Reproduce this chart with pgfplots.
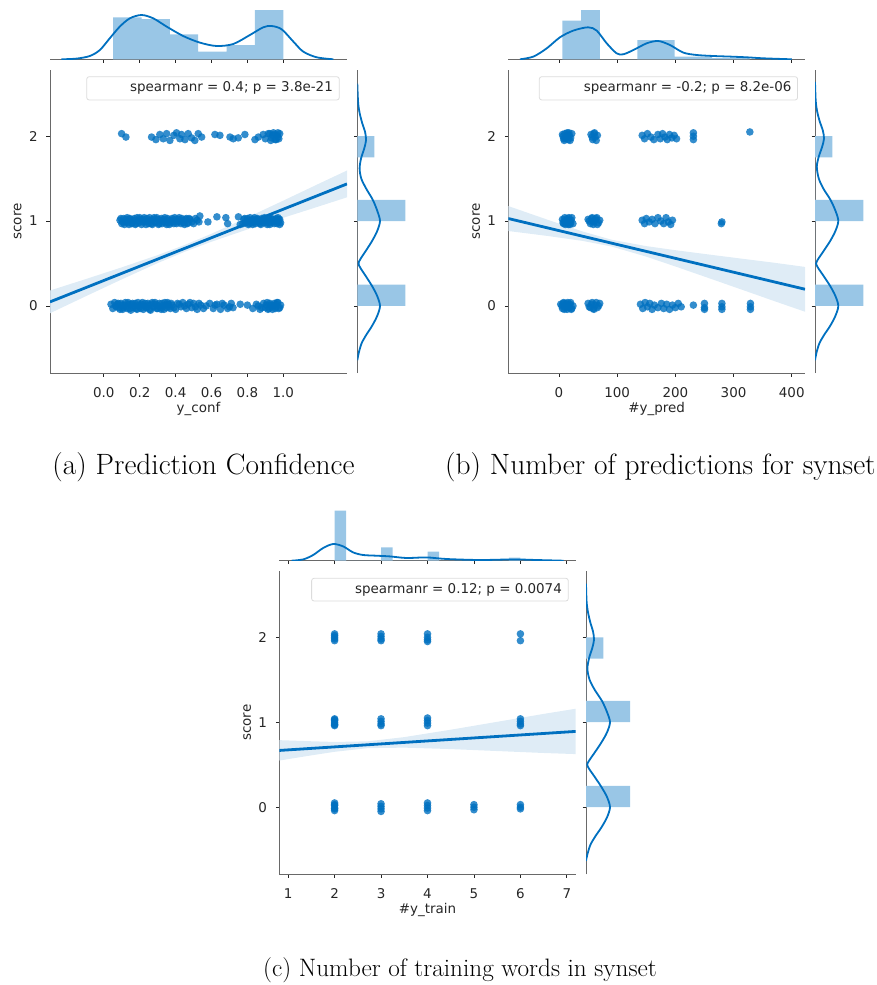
\documentclass[border=0pt]{standalone}
\usepackage{fontspec}
\usepackage{pgfplots}
\pgfplotsset{compat=1.18}
\newfontfamily\dejavu{DejaVu Sans}

\definecolor{sblue}{RGB}{0,112,192}
\definecolor{hblue}{RGB}{153,198,230}
\definecolor{cblue}{RGB}{217,233,245}
\definecolor{spine}{RGB}{105,105,105}
\definecolor{txt}{RGB}{38,38,38}
\definecolor{lgd}{RGB}{220,220,220}

\pgfplotsset{
  base/.style={
    scale only axis,
    font=\dejavu\fontsize{13.5}{16}\selectfont,
    /pgf/number format/assume math mode=true,
    tick align=outside,
    major tick length=3.5bp,
    tick style={color=txt, line width=0.8bp},
    axis line style={spine, line width=0.9bp},
    ticklabel style={text=txt},
    label style={text=txt},
  },
  joint/.style={
    base,
    axis x line*=bottom, axis y line*=left,
    ymin=-0.79, ymax=2.78, ytick={0,1,2},
    xticklabel style={inner sep=0pt, anchor=north},
    yticklabel style={inner sep=0pt, anchor=east},
    xticklabel shift=10.4bp, yticklabel shift=8.6bp,
    ylabel={score},
    ylabel style={at={(axis description cs:-0.096,0.5)}, anchor=base},
    xlabel style={at={(axis description cs:0.5,-0.130)}, anchor=base},
  },
  topm/.style={
    base,
    axis x line*=bottom, axis y line=none,
    xticklabels={}, ytick=\empty,
    ymin=0, ymax=54, height=54bp,
  },
  rightm/.style={
    base,
    axis y line*=left, axis x line=none,
    yticklabels={}, xtick=\empty, ytick={0,1,2},
    xmin=0, ymin=-0.79, ymax=2.78,
  },
  pts/.style={only marks, mark=*, mark size=3.8bp, color=sblue,
    mark options={fill=sblue, draw=sblue, draw opacity=0, fill opacity=0.8}},
  regline/.style={sblue, line width=2.8bp},
  band/.style={fill=cblue, draw=none, fill opacity=0.85},
  kde/.style={sblue, line width=1.8bp, smooth},
  hist/.style={fill=hblue, draw=none},
}

\begin{document}
\begin{tikzpicture}
\path[use as bounding box] (0,0) rectangle (877bp,-985bp);

% ---------------- (a) y_conf ----------------
\begin{axis}[joint, at={(50bp,-70bp)}, anchor=north west,
  width=297bp, height=303bp, xmin=-0.30, xmax=1.355,
  xtick={0,0.2,0.4,0.6,0.8,1.0},
  xticklabels={0.0,0.2,0.4,0.6,0.8,1.0},
  xlabel={y\_conf}]
% score 0
\addplot[pts] coordinates {
 (0.04,0.02) (0.05,-0.03) (0.06,0.04) (0.07,-0.01) (0.08,0.03) (0.09,-0.04)
 (0.10,0.01) (0.11,-0.02) (0.12,0.04) (0.13,-0.03) (0.14,0.02) (0.15,-0.05)
 (0.16,0.03) (0.17,0.00) (0.18,-0.03) (0.19,0.04) (0.20,-0.01) (0.21,0.02)
 (0.22,-0.04) (0.23,0.03) (0.24,-0.02) (0.25,0.01) (0.26,-0.05) (0.27,0.04)
 (0.28,-0.01) (0.29,0.02) (0.30,-0.03) (0.31,0.03) (0.32,-0.04) (0.33,0.00)
 (0.34,0.04) (0.35,-0.02) (0.36,0.02) (0.37,-0.03) (0.38,0.01) (0.40,-0.04)
 (0.41,0.03) (0.43,-0.01) (0.44,0.04) (0.46,-0.03) (0.47,0.02) (0.49,-0.02)
 (0.50,0.03) (0.52,-0.04) (0.54,0.01) (0.57,0.00) (0.61,-0.03) (0.63,0.02)
 (0.65,-0.04) (0.67,0.01) (0.69,-0.03) (0.71,0.03) (0.72,-0.02) (0.80,0.01)
 (0.83,-0.03) (0.85,0.02) (0.87,-0.04) (0.89,0.03) (0.90,-0.02) (0.91,0.04)
 (0.92,-0.03) (0.93,0.01) (0.94,-0.04) (0.95,0.03) (0.96,-0.01) (0.97,0.04)
 (0.98,-0.02) (0.96,0.02) (0.93,-0.01)
 (0.065,0.00) (0.075,0.02) (0.085,-0.02) (0.095,0.03) (0.105,-0.04) (0.115,0.01)
 (0.125,-0.01) (0.135,0.04) (0.145,-0.03) (0.155,0.02) (0.165,-0.02) (0.175,0.03)
 (0.185,-0.04) (0.195,0.01) (0.205,-0.03) (0.215,0.04) (0.225,0.00) (0.235,-0.02)
 (0.245,0.03) (0.255,-0.04) (0.265,0.02) (0.275,-0.01) (0.285,0.04) (0.295,-0.03)
 (0.305,0.00) (0.315,-0.02) (0.325,0.03) (0.335,-0.04) (0.345,0.01) (0.355,0.04)
 (0.365,-0.01) (0.375,0.03) (0.39,-0.02) (0.42,0.02) (0.45,0.00) (0.48,0.04)
 (0.51,-0.01) (0.53,0.03) (0.555,-0.03) (0.59,0.03) (0.62,0.01) (0.66,0.03)
 (0.70,-0.01) (0.76,0.02) (0.86,0.00) (0.88,-0.02) (0.905,0.01) (0.915,-0.04)
 (0.925,0.03) (0.945,0.00) (0.955,-0.03) (0.965,0.04) (0.975,-0.03) (0.985,0.01)
};
% score 1
\addplot[pts] coordinates {
 (0.09,1.01) (0.10,0.97) (0.11,1.03) (0.12,0.99) (0.13,1.04) (0.14,0.96)
 (0.15,1.02) (0.16,0.98) (0.17,1.03) (0.18,0.97) (0.19,1.00) (0.20,1.04)
 (0.21,0.96) (0.22,1.02) (0.23,0.99) (0.24,1.03) (0.25,0.97) (0.26,1.01)
 (0.27,0.96) (0.28,1.04) (0.29,0.98) (0.30,1.02) (0.31,0.97) (0.32,1.03)
 (0.33,0.99) (0.34,1.04) (0.35,0.96) (0.36,1.01) (0.37,0.98) (0.38,1.03)
 (0.39,0.97) (0.40,1.02) (0.41,0.99) (0.42,1.04) (0.43,0.97) (0.44,1.01)
 (0.45,0.96) (0.46,1.03) (0.47,0.98) (0.48,1.02) (0.50,0.97) (0.51,1.03)
 (0.53,0.99) (0.535,1.06) (0.58,0.99) (0.63,1.05) (0.68,1.04) (0.69,0.97)
 (0.75,1.05) (0.76,0.96) (0.78,1.02) (0.79,0.98) (0.80,1.03) (0.81,0.97)
 (0.82,1.01) (0.83,0.96) (0.84,1.04) (0.85,0.99) (0.86,1.02) (0.87,0.97)
 (0.88,1.03) (0.89,0.98) (0.90,1.01) (0.91,0.96) (0.92,1.04) (0.93,0.98)
 (0.94,1.02) (0.95,0.97) (0.96,1.03) (0.97,0.99) (0.98,1.02) (0.98,0.96)
 (0.97,1.04)
 (0.095,1.03) (0.105,0.99) (0.115,0.96) (0.125,1.02) (0.135,0.98) (0.145,1.03)
 (0.155,0.97) (0.165,1.01) (0.175,0.96) (0.185,1.04) (0.195,0.98) (0.205,1.02)
 (0.215,0.99) (0.225,1.04) (0.235,0.96) (0.245,1.00) (0.255,1.04) (0.265,0.97)
 (0.275,1.02) (0.285,0.99) (0.295,1.04) (0.305,0.96) (0.315,1.01) (0.325,0.97)
 (0.335,1.02) (0.345,0.98) (0.355,1.03) (0.365,0.96) (0.375,1.01) (0.385,0.99)
 (0.395,1.04) (0.405,0.97) (0.415,1.02) (0.425,0.99) (0.435,1.03) (0.445,0.98)
 (0.455,1.02) (0.465,0.97) (0.475,1.03) (0.49,0.99) (0.52,1.01) (0.775,0.97)
 (0.785,1.03) (0.795,0.99) (0.805,0.96) (0.815,1.04) (0.825,0.98) (0.835,1.02)
 (0.845,0.97) (0.855,1.03) (0.865,0.99) (0.875,0.96) (0.885,1.01) (0.895,1.04)
 (0.905,0.98) (0.915,1.02) (0.925,0.96) (0.935,1.03) (0.945,0.99) (0.955,1.01)
 (0.965,0.97) (0.975,1.02) (0.985,0.98)
};
% score 2
\addplot[pts] coordinates {
 (0.099,2.03) (0.123,1.99) (0.266,1.99) (0.29,1.96) (0.312,2.02) (0.331,1.97)
 (0.35,2.03) (0.368,1.95) (0.39,2.01) (0.405,2.04) (0.424,1.97) (0.433,2.02)
 (0.452,1.96) (0.47,2.03) (0.489,1.98) (0.507,1.95) (0.526,2.03) (0.545,1.99)
 (0.619,2.02) (0.647,2.01) (0.703,1.99) (0.721,1.97) (0.749,1.98) (0.786,2.02)
 (0.842,1.96) (0.861,1.99) (0.888,2.02) (0.90,1.97) (0.916,2.03) (0.935,1.98)
 (0.945,2.04) (0.955,1.96) (0.965,2.01) (0.975,1.97) (0.98,2.03) (0.97,1.99)
 (0.95,2.02) (0.93,1.95) (0.96,1.96) (0.94,2.01) (0.97,2.04) (0.925,2.03)
};
\addplot[band] coordinates {
 (-0.30,0.182) (-0.1,0.317) (0.1,0.455) (0.3,0.599) (0.45,0.718) (0.6,0.851)
 (0.8,1.043) (1.0,1.241) (1.2,1.442) (1.355,1.596)
 (1.355,1.280) (1.2,1.174) (1.0,1.039) (0.8,0.901) (0.6,0.757) (0.45,0.638)
 (0.3,0.505) (0.1,0.313) (-0.1,0.115) (-0.30,-0.086)} -- cycle;
\addplot[regline] coordinates {(-0.30,0.048) (1.355,1.438)};
\draw[lgd, line width=0.8bp, rounded corners=2.5bp, fill=white, fill opacity=0.8]
  (rel axis cs:0.1236,0.901) rectangle (rel axis cs:0.974,0.978);
\node[anchor=east, inner sep=0pt, text=txt, font=\dejavu\fontsize{13.5}{16}\selectfont]
  at (rel axis cs:0.953,0.94) {spearmanr = 0.4; p = 3.8e-21};
\end{axis}

\begin{axis}[topm, at={(50bp,-59.3bp)}, anchor=south west,
  width=297bp, xmin=-0.30, xmax=1.355, xtick={0,0.2,0.4,0.6,0.8,1.0}]
\addplot[hist, ybar interval] coordinates {
 (0.052,42) (0.210,40.3) (0.368,25) (0.526,7.7) (0.684,14.3) (0.842,49.3) (1.0,0)};
\addplot[kde] coordinates {
 (-0.236,0) (-0.152,0.7) (-0.078,3.3) (-0.022,9.3) (0.033,21) (0.089,32.7)
 (0.145,41) (0.21,44.3) (0.275,41) (0.35,32.7) (0.442,23.3) (0.535,16.7)
 (0.628,13.3) (0.721,15.3) (0.814,24.3) (0.888,32) (0.935,33.3) (0.991,30)
 (1.056,17.7) (1.111,7.7) (1.186,2) (1.279,0)};
\end{axis}

\begin{axis}[rightm, at={(357.3bp,-70bp)}, anchor=north west,
  width=48bp, height=303bp, xmax=48]
\addplot[hist, xbar interval] coordinates {
 (48,0) (0,0.25) (0,0.5) (0,0.75) (48,1) (0,1.25) (0,1.5) (17,1.75) (17,2)};
\addplot[kde] coordinates {
 (0,-0.64) (1.5,-0.55) (4.3,-0.44) (9,-0.34) (14.5,-0.24) (19.8,-0.12) (22.7,0)
 (19.8,0.12) (14.5,0.24) (8,0.36) (3,0.45) (1.2,0.5) (3,0.55) (8,0.64)
 (14.5,0.76) (19.8,0.88) (22.7,1.0) (20,1.12) (15.5,1.25) (9,1.38) (4,1.5)
 (2.3,1.62) (3.8,1.74) (6.8,1.85) (8.7,1.95) (7.8,2.05) (5,2.15) (2.2,2.28)
 (0.8,2.4) (0,2.62)};
\end{axis}

% ---------------- (b) #y_pred ----------------
\begin{axis}[joint, at={(508.3bp,-70bp)}, anchor=north west,
  width=296.7bp, height=303bp, xmin=-87.1, xmax=422.8,
  xtick={0,100,200,300,400}, xlabel={\#y\_pred}]
\addplot[pts] coordinates {
 (6,2.02) (8,1.97) (10,2.03) (12,1.99) (14,2.04) (16,1.96) (18,2.01) (20,1.98)
 (22,2.03) (9,1.95) (55,2.02) (58,1.96) (60,2.03) (62,1.99) (64,1.95) (66,2.01)
 (7,2.00) (11,1.97) (15,2.02) (19,1.95) (13,2.00) (17,2.04) (57,1.99) (61,2.04)
 (143,2.01) (147,1.97) (152,2.03) (158,1.99) (163,1.96) (170,2.02) (174,1.97)
 (178,2.03) (182,1.99) (186,1.96) (190,2.02) (194,1.98) (198,2.01) (202,1.97)
 (231,2.04) (231,2.00) (231,1.96) (328,2.05)
 (6,1.02) (8,0.97) (10,1.04) (12,0.99) (14,1.03) (16,0.96) (18,1.01) (20,0.98)
 (22,1.04) (24,0.97) (50,1.02) (54,0.97) (57,1.04) (60,0.99) (63,1.03) (66,0.96)
 (9,1.00) (11,0.96) (13,1.01) (15,0.98) (17,1.04) (19,0.96) (21,1.01) (7,0.98)
 (52,1.00) (56,1.03) (59,0.96) (62,1.01) (65,1.04) (68,0.98) (58,1.00)
 (70,1.01) (143,1.01) (147,0.97) (150,1.03) (155,0.99) (160,1.02) (165,0.97)
 (170,1.04) (175,1.00) (180,0.97) (184,1.04) (188,0.99) (192,0.96) (195,1.01)
 (280,0.99) (279,0.97)
 (3,0.02) (6,-0.03) (8,0.04) (10,-0.01) (12,0.03) (14,-0.04) (16,0.01) (18,-0.02)
 (20,0.04) (22,-0.03) (24,0.00) (50,0.03) (54,-0.02) (57,0.04) (60,-0.04)
 (5,0.00) (7,0.03) (9,-0.04) (11,0.01) (13,-0.02) (15,0.04) (17,-0.01) (19,0.02)
 (21,-0.04) (52,-0.01) (56,0.02) (59,-0.03) (64,0.04) (68,0.00)
 (62,0.01) (66,-0.02) (70,0.03) (140,0.02) (144,-0.03) (148,0.04) (152,-0.01)
 (156,0.03) (160,-0.04) (164,0.01) (170,-0.02) (176,0.03) (180,-0.03) (185,0.02)
 (190,-0.04) (195,0.01) (200,-0.02) (205,0.03) (210,-0.01) (231,0.01) (250,0.03)
 (250,-0.02) (250,-0.04) (280,0.03) (280,-0.01) (280,-0.04) (329,0.03)
 (329,-0.01) (329,-0.04)
};
\addplot[band] coordinates {
 (-87.1,1.177) (-20,1.017) (40,0.879) (90,0.781) (150,0.705) (200,0.657)
 (260,0.604) (320,0.552) (370,0.509) (422.8,0.460)
 (422.8,-0.068) (370,0.057) (320,0.178) (260,0.322) (200,0.465) (150,0.581)
 (90,0.701) (40,0.767) (-20,0.825) (-87.1,0.883)} -- cycle;
\addplot[regline] coordinates {(-87.1,1.030) (422.8,0.197)};
\draw[lgd, line width=0.8bp, rounded corners=2.5bp, fill=white, fill opacity=0.8]
  (rel axis cs:0.1045,0.901) rectangle (rel axis cs:0.975,0.978);
\node[anchor=east, inner sep=0pt, text=txt, font=\dejavu\fontsize{13.5}{16}\selectfont]
  at (rel axis cs:0.955,0.94) {spearmanr = -0.2; p = 8.2e-06};
\end{axis}

\begin{axis}[topm, at={(508.3bp,-59.3bp)}, anchor=south west,
  width=296.7bp, xmin=-87.1, xmax=422.8, xtick={0,100,200,300,400}]
\addplot[hist, ybar interval] coordinates {
 (5.7,38.6) (37.9,49.3) (70.1,0) (102.3,0) (134.5,19.3) (166.7,19.3)
 (198.9,2.7) (231.1,2.7) (263.3,1.3) (295.5,1.3) (327.7,0)};
\addplot[kde] coordinates {
 (-67,0) (-44,2.7) (-21,11) (1.7,22) (24.6,28.7) (50,32) (64.8,28.7) (82,16)
 (99,6) (110.5,5) (128,9.3) (150.7,16) (170.6,18.3) (190.7,14.3) (213.6,6.7)
 (236.6,4.3) (265,3.3) (294,2.7) (322.5,2) (351,1) (400,0)};
\end{axis}

\begin{axis}[rightm, at={(815bp,-70bp)}, anchor=north west,
  width=48.3bp, height=303bp, xmax=48.3]
\addplot[hist, xbar interval] coordinates {
 (48.3,0) (0,0.25) (0,0.5) (0,0.75) (48.3,1) (0,1.25) (0,1.5) (17.3,1.75) (17.3,2)};
\addplot[kde] coordinates {
 (0,-0.64) (1.5,-0.55) (4.4,-0.44) (9.2,-0.34) (14.9,-0.24) (20.3,-0.12) (23.3,0)
 (20.3,0.12) (14.9,0.24) (8.2,0.36) (3,0.45) (1.1,0.5) (3,0.55) (8.2,0.64)
 (14.9,0.76) (20.3,0.88) (23.3,1.0) (20.5,1.12) (15.5,1.25) (8.5,1.38) (3.8,1.5)
 (1.8,1.64) (3.8,1.76) (7,1.87) (9,1.97) (7.8,2.07) (4.8,2.17) (2,2.3)
 (0.7,2.42) (0,2.64)};
\end{axis}

% ---------------- (c) #y_train ----------------
\begin{axis}[joint, at={(279.3bp,-571bp)}, anchor=north west,
  width=296.4bp, height=303.3bp, xmin=0.81, xmax=7.19,
  xtick={1,2,3,4,5,6,7}, xlabel={\#y\_train}]
\addplot[pts] coordinates {
 (2,2.04) (2,2.02) (2,2.00) (2,1.98) (2,1.96)
 (3,2.04) (3,2.01) (3,1.98) (3,1.96)
 (4,2.04) (4,2.00) (4,1.97) (4,1.95)
 (6,2.04) (6,1.96)
 (2,1.04) (2,1.02) (2,1.00) (2,0.98) (2,0.96) (2,1.03) (2,0.97)
 (3,1.04) (3,1.01) (3,0.98) (3,0.96)
 (4,1.05) (4,1.02) (4,0.99) (4,0.96)
 (6,1.04) (6,1.01) (6,0.98) (6,0.96)
 (2,0.05) (2,0.02) (2,-0.01) (2,-0.04) (2,0.03) (2,-0.02)
 (3,0.04) (3,0.01) (3,-0.02) (3,-0.05)
 (4,0.05) (4,0.02) (4,-0.01) (4,-0.04)
 (5,0.03) (5,0.00) (5,-0.03)
 (6,0.03) (6,0.00) (6,-0.02)
};
\addplot[band] coordinates {
 (0.81,0.789) (1.5,0.776) (2.0,0.768) (2.71,0.775) (3.5,0.825) (4.5,0.912)
 (5.5,1.005) (6.5,1.098) (7.19,1.159)
 (7.19,0.625) (6.5,0.638) (5.5,0.661) (4.5,0.684) (3.5,0.701) (2.71,0.695)
 (2.0,0.652) (1.5,0.610) (0.81,0.549)} -- cycle;
\addplot[regline] coordinates {(0.81,0.668) (7.19,0.892)};
\draw[lgd, line width=0.8bp, rounded corners=2.5bp, fill=white, fill opacity=0.8]
  (rel axis cs:0.109,0.901) rectangle (rel axis cs:0.975,0.976);
\node[anchor=east, inner sep=0pt, text=txt, font=\dejavu\fontsize{13.5}{16}\selectfont]
  at (rel axis cs:0.954,0.939) {spearmanr = 0.12; p = 0.0074};
\end{axis}

\begin{axis}[topm, at={(279.3bp,-560.7bp)}, anchor=south west,
  width=296.4bp, xmin=0.81, xmax=7.19, xtick={1,2,3,4,5,6,7}]
\addplot[hist, ybar interval] coordinates {
 (2,50) (2.25,0) (2.5,0) (2.75,0) (3,13.4) (3.25,0) (3.5,0) (3.75,0) (4,9)
 (4.25,0) (4.5,0) (4.75,0) (5,1) (5.25,0) (5.5,0) (5.75,3) (6,0)};
\addplot[kde] coordinates {
 (1.073,0) (1.323,1.3) (1.539,5.7) (1.754,12.7) (1.97,16.7) (2.185,14.3)
 (2.40,8.3) (2.616,5.7) (2.905,5) (3.19,4.3) (3.55,2.7) (3.98,3.3) (4.41,1.7)
 (5.13,0.7) (5.85,1.3) (6.35,0.7) (6.93,0)};
\end{axis}

\begin{axis}[rightm, at={(586bp,-571bp)}, anchor=north west,
  width=44bp, height=303.3bp, xmax=44]
\addplot[hist, xbar interval] coordinates {
 (44,0) (0,0.25) (0,0.5) (0,0.75) (44,1) (0,1.25) (0,1.5) (17.3,1.75) (17.3,2)};
\addplot[kde] coordinates {
 (0,-0.63) (1.5,-0.55) (4.5,-0.44) (9.5,-0.34) (15.3,-0.24) (21,-0.12) (24,0)
 (21,0.12) (15.3,0.24) (8.5,0.36) (3.2,0.45) (1.2,0.5) (3.2,0.55) (8.5,0.64)
 (15.3,0.76) (21,0.88) (24,1.0) (21,1.12) (16,1.25) (8.8,1.38) (3.6,1.5)
 (1.4,1.63) (3.2,1.76) (6.2,1.87) (8,1.97) (7,2.07) (4.4,2.17) (1.9,2.3)
 (0.6,2.42) (0,2.63)};
\end{axis}

% ---------------- captions ----------------
\node[anchor=base, inner sep=0pt, font=\fontsize{29.5}{34}\selectfont]
  at (203.5bp,-474bp) {(a) Prediction Confidence};
\node[anchor=base west, inner sep=0pt, font=\fontsize{29.5}{34}\selectfont]
  at (445bp,-474bp) {(b) Number of predictions for synset};
\node[anchor=base, inner sep=0pt, font=\fontsize{25.3}{30}\selectfont]
  at (460bp,-976bp) {(c) Number of training words in synset};
\end{tikzpicture}
\end{document}
